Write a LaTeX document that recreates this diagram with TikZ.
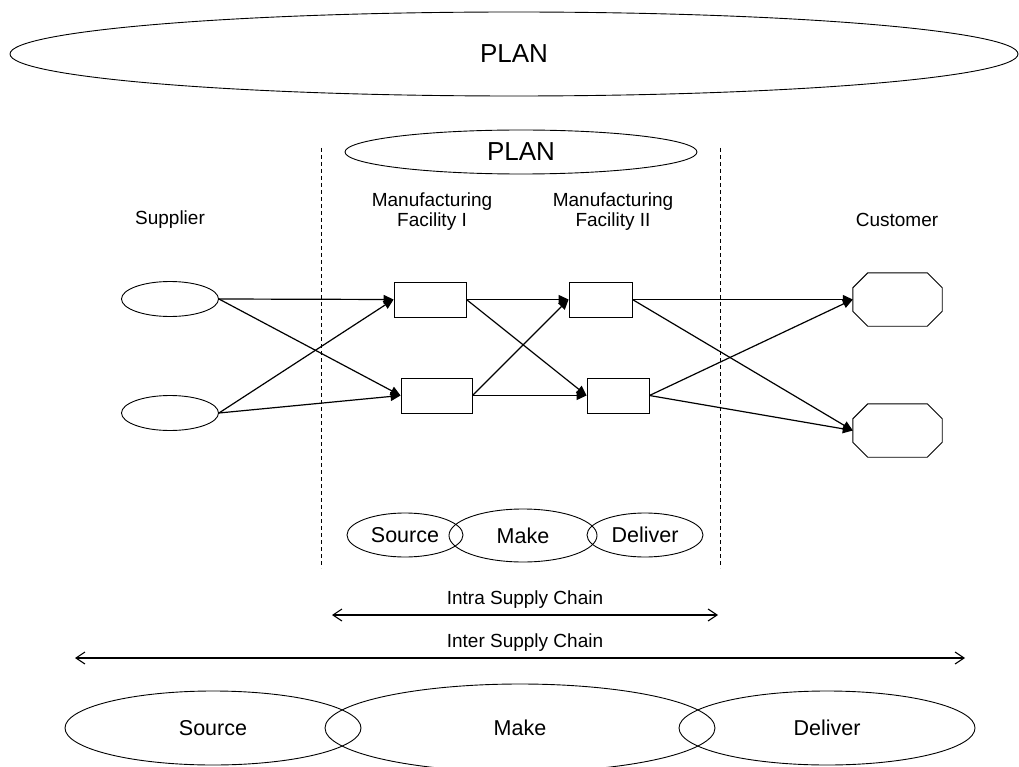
\documentclass[tikz,border=0pt]{standalone}
\usepackage{fontspec}
\setmainfont{Liberation Sans}
\usetikzlibrary{shapes.geometric,arrows.meta}
\begin{document}
\begin{tikzpicture}[x=1pt,y=-1pt,
  lbl/.style={font=\fontsize{19}{20}\selectfont, align=center, inner sep=0},
  oval/.style={draw, ellipse, inner sep=0, line width=0.9pt},
  plantext/.style={font=\fontsize{26}{28}\selectfont},
  phasetext/.style={font=\fontsize{21.5}{24}\selectfont},
  facility/.style={draw, rectangle, inner sep=0, minimum height=35pt, line width=0.9pt},
  supplier/.style={draw, ellipse, inner sep=0, minimum width=97pt, minimum height=35pt, line width=0.9pt},
  custbox/.style={rectangle, inner sep=0, minimum width=89pt, minimum height=53pt},
  flow/.style={line width=1.2pt, -{Triangle[length=10pt,width=9pt]}},
  span/.style={line width=1.1pt, {Straight Barb[length=9pt,width=12pt,line width=1.1pt]}-{Straight Barb[length=9pt,width=12pt,line width=1.1pt]}},
  border/.style={line width=0.9pt, dash pattern=on 4pt off 3pt}
]
\useasboundingbox (0,0) rectangle (1019,767);

% overall planning
\node[oval, plantext, minimum width=1008pt, minimum height=84pt] (plantop) at (514,54) {PLAN};

% company boundary
\coordinate (bl1) at (321,148); \coordinate (bl2) at (321,568);
\coordinate (br1) at (720,148); \coordinate (br2) at (720,568);
\draw[border] (bl1) -- (bl2);
\draw[border] (br1) -- (br2);

% internal planning
\node[oval, plantext, minimum width=352pt, minimum height=44pt] (planmid) at (521,152) {PLAN};

% column labels
\node[lbl] (lsup) at (170,220) {Supplier};
\node[lbl] (lmf1) at (432,212) {Manufacturing\\Facility I};
\node[lbl] (lmf2) at (613,212) {Manufacturing\\Facility II};
\node[lbl] (lcus) at (897,220) {Customer};

% suppliers
\node[supplier] (s1) at (170,299) {};
\node[supplier] (s2) at (170,413) {};

% facility I
\node[facility, minimum width=72pt] (a1) at (430,299.5) {};
\node[facility, minimum width=71pt] (a2) at (436.5,395.5) {};

% facility II
\node[facility, minimum width=63pt] (b1) at (600.5,299.5) {};
\node[facility, minimum width=62pt] (b2) at (618,395.5) {};

% customers (octagons)
\node[custbox] (c1) at (897.5,299.5) {};
\node[custbox] (c2) at (897.5,430.5) {};
\foreach \c in {c1,c2}{
  \draw[line width=0.9pt] ([xshift=15pt]\c.north west) -- ([xshift=-15pt]\c.north east)
    -- ([yshift=-15pt]\c.north east) -- ([yshift=15pt]\c.south east)
    -- ([xshift=-15pt]\c.south east) -- ([xshift=15pt]\c.south west)
    -- ([yshift=15pt]\c.south west) -- ([yshift=-15pt]\c.north west) -- cycle;
}

% material flows
\draw[flow] (s1.east) -- (a1.west);
\draw[flow] (s1.east) -- (a2.west);
\draw[flow] (s2.east) -- (a1.west);
\draw[flow] (s2.east) -- (a2.west);
\draw[flow] (a1.east) -- (b1.west);
\draw[flow] (a1.east) -- (b2.west);
\draw[flow] (a2.east) -- (b1.west);
\draw[flow] (a2.east) -- (b2.west);
\draw[flow] (b1.east) -- (c1.west);
\draw[flow] (b1.east) -- (c2.west);
\draw[flow] (b2.east) -- (c1.west);
\draw[flow] (b2.east) -- (c2.west);

% internal processes
\node[oval, phasetext, minimum width=116pt, minimum height=44pt] (isrc) at (405,535) {Source};
\node[oval, phasetext, minimum width=148pt, minimum height=53pt] (imak) at (523,535.5) {Make};
\node[oval, phasetext, minimum width=116pt, minimum height=44pt] (idel) at (645,535) {Deliver};

% scopes
\coordinate (ia) at (332,615); \coordinate (ib) at (718,615);
\draw[span] (ia) -- (ib);
\node[lbl] (lintra) at (525,600) {Intra Supply Chain};
\coordinate (ea) at (75,658); \coordinate (eb) at (965,658);
\draw[span] (ea) -- (eb);
\node[lbl] (linter) at (525,643) {Inter Supply Chain};

% chain-wide processes
\node[oval, phasetext, minimum width=296pt, minimum height=74pt] (osrc) at (213,728) {Source};
\node[oval, phasetext, minimum width=390pt, minimum height=88pt] (omak) at (520,728) {Make};
\node[oval, phasetext, minimum width=296pt, minimum height=74pt] (odel) at (827,728) {Deliver};
\end{tikzpicture}
\end{document}
